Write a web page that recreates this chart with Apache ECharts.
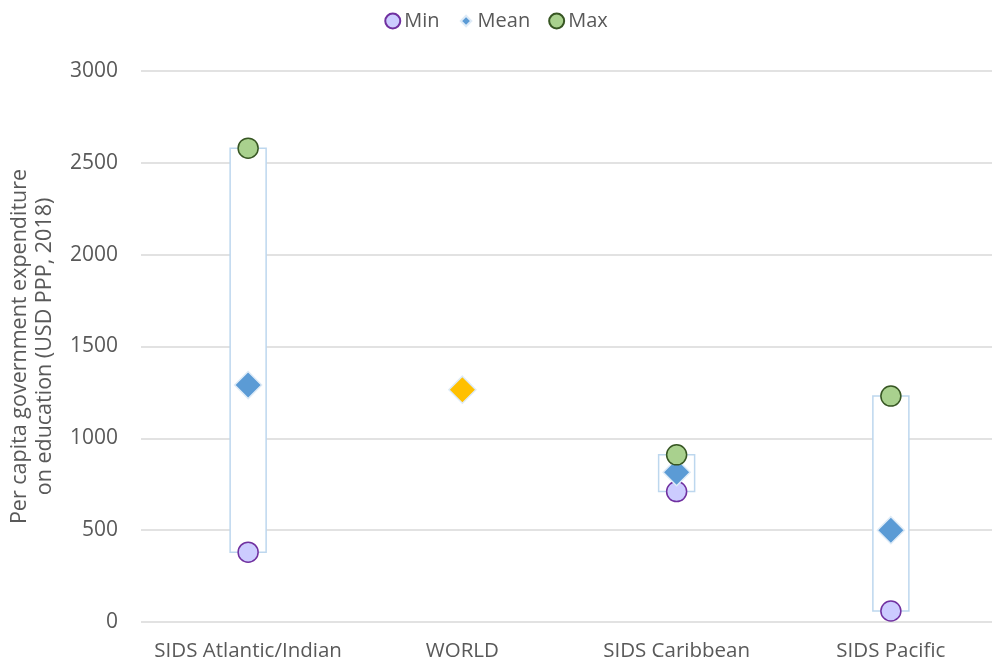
<!DOCTYPE html>
<html style="height: 100%">
<head>
<meta charset="utf-8">
<script src="https://cdn.jsdelivr.net/npm/echarts@6/dist/echarts.min.js"></script>
</head>
<body style="height: 100%; margin: 0; background: #fff">
<div id="container" style="width: 992px; height: 666px"></div>
<script type="text/javascript">
// regions and values
var regions = ['SIDS Atlantic/Indian', 'WORLD', 'SIDS Caribbean', 'SIDS Pacific'];
var minVals = [380, null, 710, 60];
var meanVals = [1290, 1265, 815, 500];
var maxVals = [2580, null, 910, 1230];

var font = '"Open Sans", "Noto Sans", sans-serif';
var grey = '#595959';

var chart = echarts.init(document.getElementById('container'));

// range boxes from min to max
var boxData = regions.map(function (r, i) {
    return [i, minVals[i], maxVals[i]];
}).filter(function (d) { return d[1] != null; });

var option = {
    animation: false,
    textStyle: { fontFamily: font },
    legend: {
        top: 6,
        left: 'center',
        itemGap: 18,
        itemWidth: 15,
        itemHeight: 15,
        textStyle: { fontSize: 20, color: grey, fontFamily: font, padding: [0, 0, 0, -1] },
        data: [
            { name: 'Min', icon: 'circle' },
            { name: 'Mean', icon: 'path://M0,0 M20,20 M10,3 L17,10 L10,17 L3,10 Z' },
            { name: 'Max', icon: 'circle' }
        ]
    },
    grid: { left: 141, right: -6, top: 71, bottom: 44, outerBoundsMode: 'none' },
    xAxis: {
        type: 'category',
        data: regions,
        axisLine: { show: false },
        axisTick: { show: false },
        axisLabel: { interval: 0, fontSize: 20.5, color: grey, margin: 19, fontFamily: font }
    },
    yAxis: {
        type: 'value',
        min: 0,
        max: 3000,
        interval: 500,
        name: 'Per capita government expenditure\non education (USD PPP, 2018)',
        nameLocation: 'middle',
        nameGap: 84,
        nameTextStyle: { fontSize: 21.5, color: grey, lineHeight: 25, fontFamily: font },
        axisLine: { show: false },
        axisTick: { show: false },
        axisLabel: {
            fontSize: 21, color: grey, margin: 23, fontFamily: font,
            formatter: function (v) { return String(v); }
        },
        splitLine: { lineStyle: { color: '#d9d9d9', width: 1.5 } }
    },
    series: [
        {
            name: 'range',
            type: 'custom',
            z: 1,
            data: boxData,
            renderItem: function (params, api) {
                var lo = api.coord([api.value(0), api.value(1)]);
                var hi = api.coord([api.value(0), api.value(2)]);
                var w = 36;
                return {
                    type: 'rect',
                    shape: { x: lo[0] - w / 2, y: hi[1], width: w, height: lo[1] - hi[1] },
                    style: { fill: '#ffffff', stroke: '#bdd7ee', lineWidth: 1.5 }
                };
            }
        },
        {
            name: 'Min',
            type: 'scatter',
            z: 2,
            symbol: 'circle',
            symbolSize: 20,
            itemStyle: { color: '#ccccff', borderColor: '#7030a0', borderWidth: 1.5, opacity: 1 },
            data: minVals
        },
        {
            name: 'Mean',
            type: 'scatter',
            z: 3,
            symbol: 'diamond',
            symbolSize: 27,
            itemStyle: { color: '#5b9bd5', borderColor: '#deebf7', borderWidth: 1.5, opacity: 1 },
            data: meanVals.map(function (v, i) {
                if (regions[i] === 'WORLD') {
                    return { value: v, itemStyle: { color: '#ffc000' } };
                }
                return v;
            })
        },
        {
            name: 'Max',
            type: 'scatter',
            z: 4,
            symbol: 'circle',
            symbolSize: 20,
            itemStyle: { color: '#a9d18e', borderColor: '#375623', borderWidth: 1.5, opacity: 1 },
            data: maxVals
        }
    ]
};

chart.setOption(option);
</script>
</body>
</html>
